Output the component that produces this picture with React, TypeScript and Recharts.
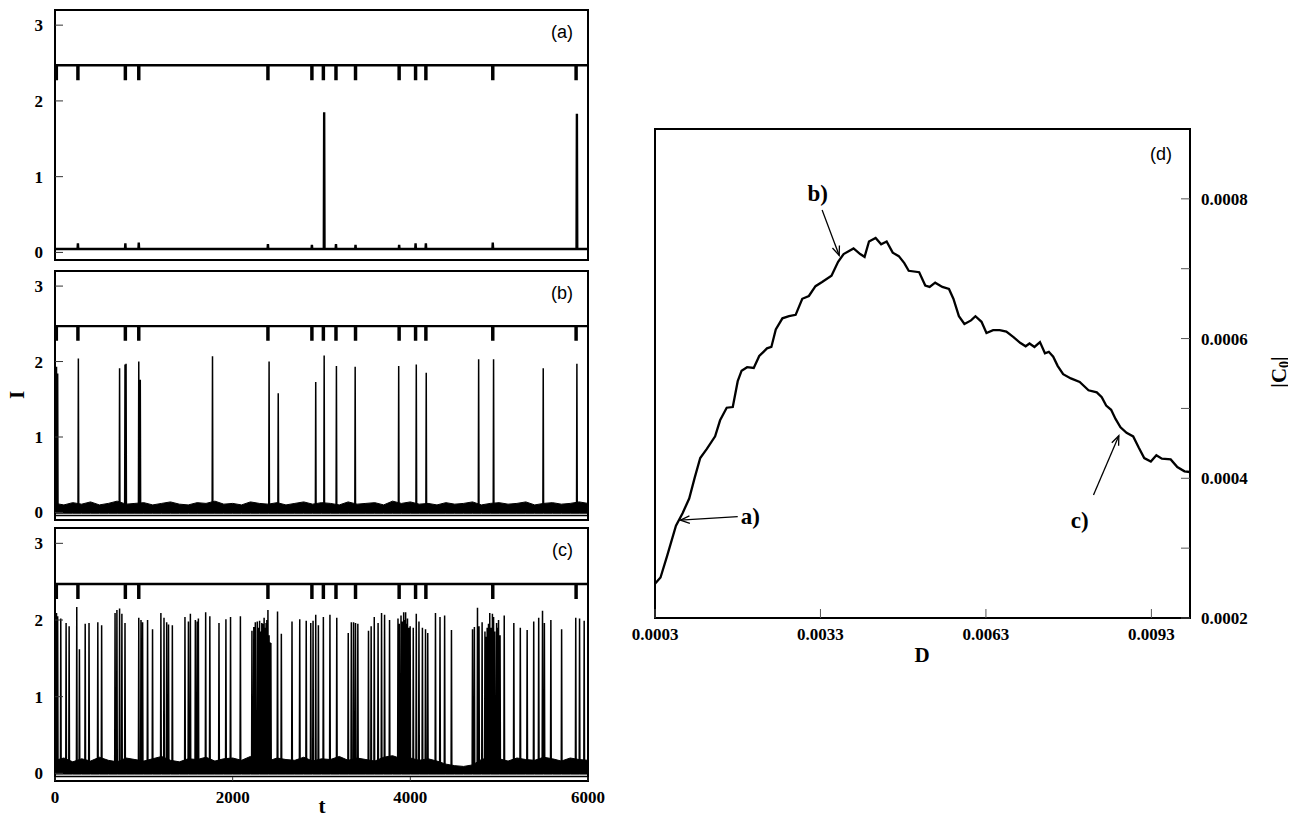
import React from 'react';
import {
  ComposedChart,
  Line,
  Area,
  XAxis,
  YAxis,
  ReferenceArea,
  ReferenceLine,
  ReferenceDot,
} from 'recharts';

// ---------- left panels: time series ----------
const timeTicks = [0, 2000, 4000, 6000];
const levelTicks = [0, 1, 2, 3];
const levelDomain: [number, number] = [-0.1, 3.2];
const timeDomain: [number, number] = [0, 6000];

// dips of the upper trace (same in all three panels)
const dipTimes = [15, 258, 792, 943, 2397, 2892, 3021, 3163, 3383, 3874, 4059, 4175, 4928, 5866];
const upperLevel = 2.47;
const dipLevel = 2.29;

// spikes [t, height]
const spikesA: [number, number][] = [
  [258, 0.12], [792, 0.12], [943, 0.13], [2397, 0.11], [2892, 0.1], [3030, 1.85], [3163, 0.11],
  [3383, 0.1], [3874, 0.1], [4059, 0.12], [4175, 0.12], [4928, 0.13], [5875, 1.83],
];
const spikesB: [number, number][] = [
  [17, 1.93], [30, 1.84], [263, 2.04], [727, 1.91], [788, 1.96], [800, 1.97], [943, 2.0], [960, 1.76],
  [1773, 2.07], [2410, 2.0], [2513, 1.58], [2935, 1.73], [3030, 2.08], [3168, 1.94], [3379, 1.93],
  [3869, 1.94], [4067, 1.96], [4179, 1.85], [4769, 2.03], [4937, 2.03], [5496, 1.91], [5875, 1.97],
];
const spikesC: [number, number][] = [
  [17, 2.09], [30, 2.05], [65, 2.02], [125, 1.96], [159, 1.92], [245, 2.17], [275, 1.62], [340, 1.95],
  [383, 1.96], [482, 1.97], [525, 1.93], [676, 2.09], [697, 2.13], [727, 2.15], [753, 2.08], [788, 1.96],
  [943, 2.03], [968, 2.0], [986, 1.97], [1042, 2.0], [1098, 1.88], [1192, 2.09], [1227, 2.03], [1257, 1.97],
  [1278, 1.94], [1321, 1.93], [1463, 2.04], [1502, 1.98], [1524, 2.08], [1580, 2.0], [1601, 1.98],
  [1614, 2.02], [1696, 2.1], [1743, 2.05], [1846, 1.96], [1924, 2.01], [1976, 2.04], [2087, 2.05],
  [2217, 1.86], [2238, 1.91], [2255, 1.97], [2277, 1.98], [2290, 1.9], [2303, 1.99], [2315, 1.85],
  [2328, 1.96], [2340, 1.95], [2354, 2.03], [2365, 1.9], [2376, 1.96], [2385, 2.0], [2397, 2.13],
  [2410, 1.8], [2419, 1.71], [2430, 1.7], [2505, 2.11], [2548, 1.82], [2668, 1.98], [2755, 2.01],
  [2828, 1.99], [2879, 1.96], [2905, 1.99], [2935, 2.07], [2965, 1.93], [3021, 2.04], [3095, 2.07],
  [3172, 2.03], [3301, 1.83], [3336, 1.97], [3361, 1.97], [3383, 1.96], [3409, 1.95], [3529, 1.86],
  [3559, 1.92], [3594, 2.04], [3637, 1.96], [3676, 2.09], [3710, 2.07], [3766, 2.0], [3861, 2.02],
  [3875, 1.95], [3895, 2.06], [3910, 1.98], [3925, 2.1], [3935, 2.0], [3947, 2.1], [3958, 1.95],
  [3968, 2.02], [3985, 1.9], [3998, 1.92], [4033, 1.9], [4067, 2.08], [4097, 1.98], [4136, 1.9],
  [4171, 1.88], [4196, 1.83], [4283, 2.09], [4334, 2.04], [4386, 2.06], [4463, 1.87], [4700, 1.88],
  [4721, 1.91], [4756, 2.16], [4773, 1.92], [4808, 1.97], [4840, 1.85], [4851, 1.78], [4865, 1.9],
  [4880, 1.95], [4894, 2.09], [4910, 1.9], [4924, 2.08], [4937, 2.04], [4950, 1.85], [4971, 1.96],
  [4980, 1.9], [4993, 2.0], [5010, 1.8], [5057, 2.06], [5165, 1.96], [5238, 1.9], [5315, 1.87],
  [5389, 1.98], [5445, 2.03], [5488, 2.12], [5509, 1.96], [5582, 2.0], [5703, 1.88], [5862, 2.03],
  [5905, 2.02], [5957, 1.99],
];

const baseA = 0.045;
const baseB = 0.05;
const baseC = 0.07;

// noise band (upper edge) sampled every 100 time units
const bandTimes = [
  0, 100, 200, 300, 400, 500, 600, 700, 800, 900, 1000, 1100, 1200, 1300, 1400, 1500, 1600, 1700,
  1800, 1900, 2000, 2100, 2200, 2300, 2400, 2500, 2600, 2700, 2800, 2900, 3000, 3100, 3200, 3300,
  3400, 3500, 3600, 3700, 3800, 3900, 4000, 4100, 4200, 4300, 4400, 4500, 4600, 4700, 4800, 4900,
  5000, 5100, 5200, 5300, 5400, 5500, 5600, 5700, 5800, 5900, 6000,
];
const bandHighB = [
  0.12, 0.1, 0.13, 0.11, 0.14, 0.1, 0.12, 0.15, 0.11, 0.12,
  0.13, 0.1, 0.12, 0.14, 0.11, 0.1, 0.13, 0.12, 0.15, 0.11,
  0.12, 0.1, 0.14, 0.12, 0.11, 0.13, 0.1, 0.12, 0.14, 0.11,
  0.13, 0.12, 0.1, 0.14, 0.11, 0.12, 0.13, 0.1, 0.15, 0.12,
  0.14, 0.11, 0.12, 0.1, 0.13, 0.11, 0.12, 0.14, 0.1, 0.12,
  0.13, 0.11, 0.12, 0.14, 0.1, 0.12, 0.13, 0.11, 0.12, 0.14, 0.12,
];
const bandHighC = [
  0.17, 0.2, 0.15, 0.19, 0.16, 0.21, 0.17, 0.15, 0.2, 0.18,
  0.16, 0.19, 0.22, 0.17, 0.15, 0.19, 0.18, 0.21, 0.16, 0.19,
  0.2, 0.17, 0.22, 0.19, 0.16, 0.2, 0.18, 0.17, 0.21, 0.16,
  0.19, 0.18, 0.22, 0.17, 0.2, 0.18, 0.16, 0.21, 0.23, 0.19,
  0.2, 0.17, 0.19, 0.16, 0.12, 0.1, 0.09, 0.11, 0.18, 0.21,
  0.19, 0.16, 0.2, 0.18, 0.17, 0.21, 0.19, 0.16, 0.2, 0.18, 0.17,
];
const bandLow = -0.01;
const lowerTraceLevel = -0.04;

// ---------- right panel: |C0| vs D ----------
const dTicks = [0.0003, 0.0033, 0.0063, 0.0093];
const cTicks = [0.0002, 0.0003, 0.0004, 0.0005, 0.0006, 0.0007, 0.0008];
const curveD = [
  0.0003, 0.0004, 0.00052, 0.00068, 0.0008, 0.00092, 0.00102, 0.00112, 0.00124, 0.00139, 0.00148,
  0.0016, 0.00171, 0.0018, 0.00187, 0.00197, 0.00209, 0.00219, 0.00233, 0.00241, 0.00249, 0.00261,
  0.00273, 0.00285, 0.00297, 0.00309, 0.00321, 0.00333, 0.0035, 0.00362, 0.00372, 0.0039, 0.00402,
  0.0041, 0.00418, 0.0043, 0.0044, 0.0045, 0.00461, 0.00472, 0.00482, 0.0049, 0.00509, 0.0052,
  0.00528, 0.00538, 0.00551, 0.00563, 0.00571, 0.00581, 0.00591, 0.00603, 0.00611, 0.00622, 0.00631,
  0.00643, 0.00655, 0.00667, 0.0068, 0.00692, 0.00702, 0.00709, 0.00718, 0.00728, 0.00737, 0.00744,
  0.00752, 0.0076, 0.0077, 0.00784, 0.008, 0.00816, 0.00831, 0.0084, 0.00848, 0.00857, 0.00865,
  0.00874, 0.00885, 0.00897, 0.00907, 0.00917, 0.00929, 0.00939, 0.00949, 0.00965, 0.00977, 0.0099,
  0.01,
];
const curveC = [
  0.000249, 0.000258, 0.000289, 0.000332, 0.00035, 0.000371, 0.000401, 0.000429, 0.000442, 0.00046,
  0.000483, 0.000501, 0.000502, 0.000539, 0.000554, 0.000559, 0.000558, 0.000575, 0.000586, 0.000588,
  0.000613, 0.000629, 0.000632, 0.000634, 0.000657, 0.000661, 0.000675, 0.000681, 0.00069, 0.00071,
  0.000721, 0.000729, 0.000721, 0.000717, 0.000739, 0.000744, 0.000735, 0.000739, 0.000723, 0.000718,
  0.000708, 0.000697, 0.000695, 0.000676, 0.000674, 0.00068, 0.000674, 0.000671, 0.000657, 0.000632,
  0.000621, 0.000626, 0.000632, 0.000624, 0.000608, 0.000612, 0.000612, 0.00061, 0.000602, 0.000594,
  0.000589, 0.000593, 0.000588, 0.000595, 0.000579, 0.000581, 0.000574, 0.000561, 0.000549, 0.000543,
  0.000538, 0.000526, 0.000523, 0.000516, 0.000504, 0.000498, 0.000485, 0.000473, 0.000465, 0.00046,
  0.000444, 0.000429, 0.000424, 0.000433, 0.000428, 0.000427, 0.000416, 0.00041, 0.000409,
];

const noteLabels = ['a)', 'b)', 'c)'];
const noteTextD = [0.00203, 0.00325, 0.008];
const noteTextC = [0.000346, 0.000808, 0.00034];
const arrowFromD = [0.0018, 0.00333, 0.00825];
const arrowFromC = [0.000345, 0.000784, 0.000376];
const arrowToD = [0.00076, 0.00364, 0.00871];
const arrowToC = [0.00034, 0.000719, 0.000461];

// ---------- builders ----------
type Pt = { t: number; v: number };

function spikeSeries(spikes: [number, number][], base: number): Pt[] {
  const pts: Pt[] = [{ t: 0, v: base }];
  spikes.forEach(([t, h]) => {
    pts.push({ t: t - 4, v: base }, { t, v: h }, { t: t + 4, v: base });
  });
  pts.push({ t: 6000, v: base });
  return pts.sort((a, b) => a.t - b.t);
}

function dipSeries(): Pt[] {
  const pts: Pt[] = [{ t: 0, v: upperLevel }];
  dipTimes.forEach((t) => {
    pts.push(
      { t: t - 6, v: upperLevel },
      { t: t - 6, v: dipLevel },
      { t: t + 6, v: dipLevel },
      { t: t + 6, v: upperLevel },
    );
  });
  pts.push({ t: 6000, v: upperLevel });
  return pts;
}

function bandSeries(high: number[]) {
  return bandTimes.map((t, i) => ({ t, lo: bandLow, hi: high[i] }));
}

const flatLine = (level: number): Pt[] => [
  { t: 0, v: level },
  { t: 6000, v: level },
];

const serif = 'Liberation Serif, Times New Roman, serif';
const sans = 'Liberation Sans, Arial, sans-serif';
const tickStyle = { fill: '#000', fontSize: 17, fontWeight: 'bold', fontFamily: serif };

type PanelProps = {
  top: number;
  height: number;
  spikes: [number, number][];
  base: number;
  band?: { t: number; lo: number; hi: number }[];
  lowerTrace?: boolean;
  label: string;
  showX?: boolean;
  baseWidth: number;
};

function TracePanel({ top, height, spikes, base, band, lowerTrace, label, showX, baseWidth }: PanelProps) {
  return (
    <div style={{ position: 'absolute', left: 0, top }}>
      <ComposedChart
        width={610}
        height={height}
        margin={{ top: 2, right: 30, bottom: showX ? 0 : 2, left: 0 }}
      >
        <XAxis
          type="number"
          dataKey="t"
          domain={timeDomain}
          ticks={timeTicks}
          interval={0}
          hide={!showX}
          height={28}
          tickSize={-4}
          tickMargin={14}
          axisLine={false}
          tickLine={{ stroke: '#333' }}
          tick={tickStyle}
          allowDataOverflow
        />
        <YAxis
          type="number"
          domain={levelDomain}
          ticks={levelTicks}
          interval={0}
          width={47}
          tickSize={-8}
          tickMargin={20}
          axisLine={false}
          tickLine={{ stroke: '#333' }}
          tick={tickStyle}
          allowDataOverflow
        />
        {band && (
          <Area
            data={band}
            dataKey={(d: any) => [d.lo, d.hi]}
            type="linear"
            stroke="#000"
            strokeWidth={1}
            fill="#000"
            fillOpacity={1}
            dot={false}
            activeDot={false}
            isAnimationActive={false}
          />
        )}
        {lowerTrace && (
          <Line
            data={flatLine(lowerTraceLevel)}
            dataKey="v"
            type="linear"
            stroke="#000"
            strokeWidth={1.5}
            dot={false}
            activeDot={false}
            isAnimationActive={false}
          />
        )}
        <Line
          data={spikeSeries(spikes, base)}
          dataKey="v"
          type="linear"
          stroke="#000"
          strokeWidth={baseWidth}
          dot={false}
          activeDot={false}
          isAnimationActive={false}
        />
        <Line
          data={dipSeries()}
          dataKey="v"
          type="linear"
          stroke="#000"
          strokeWidth={2.4}
          dot={false}
          activeDot={false}
          isAnimationActive={false}
        />
        <ReferenceArea
          x1={timeDomain[0]}
          x2={timeDomain[1]}
          y1={levelDomain[0]}
          y2={levelDomain[1]}
          fill="none"
          stroke="#000"
          strokeWidth={2}
          label={{
            value: label,
            position: 'insideTopRight',
            offset: 15,
            fill: '#000',
            fontSize: 18,
            fontFamily: sans,
          }}
        />
      </ComposedChart>
    </div>
  );
}

const ArrowShape = (p: any) => {
  const { x1, y1, x2, y2 } = p;
  if (x1 == null || x2 == null) return null;
  const ang = Math.atan2(y2 - y1, x2 - x1);
  const L = 10;
  const s = 0.38;
  const hx1 = x2 - L * Math.cos(ang - s);
  const hy1 = y2 - L * Math.sin(ang - s);
  const hx2 = x2 - L * Math.cos(ang + s);
  const hy2 = y2 - L * Math.sin(ang + s);
  return (
    <g>
      <line x1={x1} y1={y1} x2={x2} y2={y2} stroke="#000" strokeWidth={1.3} />
      <polyline
        points={`${hx1},${hy1} ${x2},${y2} ${hx2},${hy2}`}
        fill="none"
        stroke="#000"
        strokeWidth={1.3}
      />
    </g>
  );
};

const textShape = (txt: string) => (p: any) => (
  <text
    x={p.cx}
    y={p.cy}
    textAnchor="middle"
    dominantBaseline="central"
    fontFamily={serif}
    fontWeight="bold"
    fontSize={23}
    fill="#000"
  >
    {txt}
  </text>
);

function CorrelationPanel() {
  const data = curveD.map((d, i) => ({ d, c: curveC[i] }));
  return (
    <div style={{ position: 'absolute', left: 592, top: 102 }}>
      <ComposedChart width={688} height={541} margin={{ top: 19, right: 8, bottom: 3, left: 55 }}>
        <XAxis
          type="number"
          dataKey="d"
          domain={[0.0003, 0.01]}
          ticks={dTicks}
          interval={0}
          height={30}
          tickSize={-9}
          tickMargin={19}
          axisLine={false}
          tickLine={{ stroke: '#555' }}
          tick={tickStyle}
          tickFormatter={(v: number) => v.toFixed(4)}
          allowDataOverflow
        />
        <YAxis
          type="number"
          orientation="right"
          domain={[0.0002, 0.0009]}
          ticks={cTicks}
          interval={0}
          width={90}
          tickSize={-9}
          tickMargin={20}
          axisLine={false}
          tickLine={{ stroke: '#555' }}
          tick={tickStyle}
          tickFormatter={(v: number) => (Math.round(v * 10000) % 2 === 0 ? v.toFixed(4) : '')}
          allowDataOverflow
        />
        <Line
          data={data}
          dataKey="c"
          type="linear"
          stroke="#000"
          strokeWidth={2.3}
          dot={false}
          activeDot={false}
          isAnimationActive={false}
        />
        {noteLabels.map((lab, i) => (
          <ReferenceLine
            key={'arr' + i}
            segment={[
              { x: arrowFromD[i], y: arrowFromC[i] },
              { x: arrowToD[i], y: arrowToC[i] },
            ]}
            stroke="#000"
            shape={ArrowShape}
          />
        ))}
        {noteLabels.map((lab, i) => (
          <ReferenceDot
            key={'lab' + i}
            x={noteTextD[i]}
            y={noteTextC[i]}
            r={1}
            shape={textShape(lab)}
          />
        ))}
        <ReferenceArea
          x1={0.0003}
          x2={0.01}
          y1={0.0002}
          y2={0.0009}
          fill="none"
          stroke="#000"
          strokeWidth={2}
          label={{
            value: '(d)',
            position: 'insideTopRight',
            offset: 18,
            fill: '#000',
            fontSize: 18,
            fontFamily: sans,
          }}
        />
      </ComposedChart>
    </div>
  );
}

const titleProps = {
  fontFamily: serif,
  fontWeight: 'bold' as const,
  fontSize: 21,
  fill: '#000',
  textAnchor: 'middle' as const,
};

// Axis titles "t", "D" and "|C0|" drawn in one overlay SVG (root-relative coordinates)
function AxisTitles() {
  return (
    <svg
      width={1288}
      height={809}
      style={{ position: 'absolute', left: 0, top: 0, pointerEvents: 'none' }}
    >
      <text {...titleProps} x={314} y={805}>
        t
      </text>
      <text {...titleProps} x={914} y={654}>
        D
      </text>
      <text
        {...titleProps}
        x={1271}
        y={364}
        dominantBaseline="central"
        transform="rotate(-90 1271 364)"
      >
        |C<tspan fontSize={14} dy={5}>0</tspan>
        <tspan dy={-5}>|</tspan>
      </text>
    </svg>
  );
}

export default function App() {
  return (
    <div style={{ position: 'relative', width: 1280, height: 809, background: '#fff' }}>
      <TracePanel top={0} height={254} spikes={spikesA} base={baseA} label="(a)" baseWidth={2.4} />
      <TracePanel
        top={261}
        height={253}
        spikes={spikesB}
        base={baseB}
        band={bandSeries(bandHighB)}
        lowerTrace
        label="(b)"
        baseWidth={1.5}
      />
      <TracePanel
        top={518}
        height={283}
        spikes={spikesC}
        base={baseC}
        band={bandSeries(bandHighC)}
        lowerTrace
        label="(c)"
        showX
        baseWidth={1.5}
      />
      <CorrelationPanel />
      <AxisTitles />
      <div
        style={{
          position: 'absolute',
          left: 9,
          top: 387,
          transform: 'translate(-50%, -50%) rotate(-90deg)',
          fontFamily: serif,
          fontWeight: 'bold',
          fontSize: 21,
          lineHeight: '16px',
          color: '#000',
        }}
      >
        I
      </div>
    </div>
  );
}
